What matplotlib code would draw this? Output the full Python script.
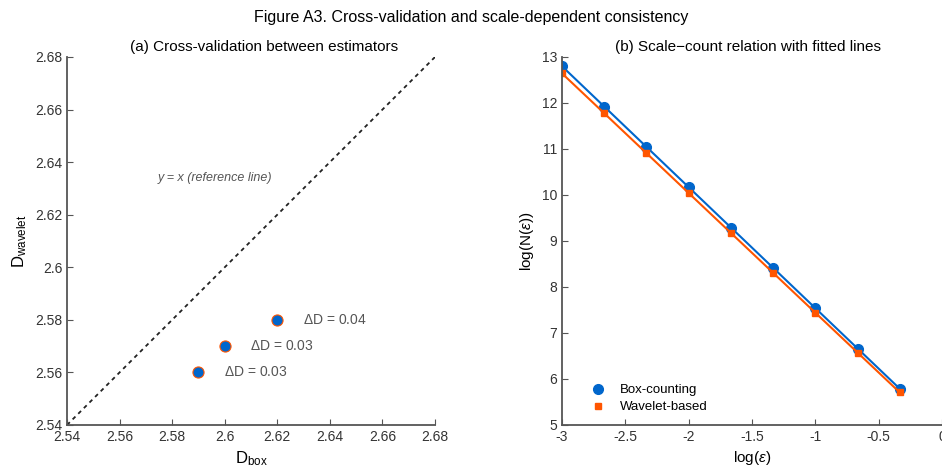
import numpy as np
import matplotlib
matplotlib.use("Agg")
import matplotlib.pyplot as plt
from matplotlib.ticker import FuncFormatter

plt.rcParams['font.family'] = ['Liberation Sans', 'DejaVu Sans']
plt.rcParams['mathtext.fontset'] = 'custom'
plt.rcParams['mathtext.rm'] = 'Liberation Sans'
plt.rcParams['mathtext.it'] = 'Liberation Sans:italic'

# (a) cross-validation data
d_box = [2.59, 2.60, 2.62]
d_wavelet = [2.56, 2.57, 2.58]
delta_labels = ["0.03", "0.03", "0.04"]

# (b) scale-count data
log_eps = [-3.0, -2.667, -2.333, -2.0, -1.667, -1.333, -1.0, -0.667, -0.333]
log_n_box = [12.80, 11.92, 11.05, 10.17, 9.29, 8.42, 7.54, 6.66, 5.79]
log_n_wav = [12.65, 11.78, 10.91, 10.04, 9.17, 8.30, 7.44, 6.57, 5.72]

blue = '#0066CC'
orange = '#FF5500'
axcol = '#555555'
g = FuncFormatter(lambda v, p: '%g' % round(v, 4))

fig = plt.figure(figsize=(9.42, 4.75), dpi=100)
ax1 = fig.add_axes([67/942, 50/475, 368/942, 368/475])
ax2 = fig.add_axes([562/942, 50/475, 380/942, 368/475])

for ax in (ax1, ax2):
    ax.spines['top'].set_visible(False)
    ax.spines['right'].set_visible(False)
    for s in ('left', 'bottom'):
        ax.spines[s].set_color(axcol)
        ax.spines[s].set_linewidth(1.3)
    ax.tick_params(direction='in', colors=axcol, labelcolor='#333333', labelsize=10, length=4)
    ax.xaxis.set_major_formatter(g)
    ax.yaxis.set_major_formatter(g)

# panel (a)
lim = [2.54, 2.68]
ax1.plot(lim, lim, linestyle=(0, (2.2, 2.2)), color='#222222', linewidth=1.3)
ax1.scatter(d_box, d_wavelet, s=64, color=blue, edgecolors=orange, linewidths=0.8, zorder=3)
for x, y, t in zip(d_box, d_wavelet, delta_labels):
    ax1.text(x + 0.0098, y, r'$\Delta$D = ' + t, fontsize=10, color='#555555', va='center')
ax1.text(2.5746, 2.634, 'y = x (reference line)', fontsize=9, style='italic', color='#555555', va='center')
ax1.set_xlim(lim)
ax1.set_ylim(lim)
ax1.set_xticks(np.arange(2.54, 2.681, 0.02))
ax1.set_yticks(np.arange(2.54, 2.681, 0.02))
ax1.set_xlabel(r'D$_{\mathrm{box}}$', fontsize=12)
ax1.set_ylabel(r'D$_{\mathrm{wavelet}}$', fontsize=12)
ax1.set_title('(a) Cross-validation between estimators', fontsize=11, x=0.535, pad=4)

# panel (b) with least-squares fitted lines
x = np.array(log_eps)
for yv, col, mk, lab, ms in ((log_n_box, blue, 'o', 'Box-counting', 7),
                             (log_n_wav, orange, 's', 'Wavelet-based', 5)):
    k, b = np.polyfit(x, yv, 1)
    ax2.plot(x, k * x + b, color=col, linewidth=1.5)
    ax2.plot(x, yv, linestyle='none', marker=mk, color=col, markersize=ms, label=lab)
ax2.set_xlim(-3, 0)
ax2.set_ylim(5, 13)
ax2.set_xticks(np.arange(-3, 0.01, 0.5))
ax2.set_yticks(np.arange(5, 13.1, 1))
ax2.set_xlabel(r'log($\epsilon$)', fontsize=11)
ax2.set_ylabel(r'log(N($\epsilon$))', fontsize=11)
ax2.set_title('(b) Scale\u2212count relation with fitted lines', fontsize=11, x=0.49, pad=4)
ax2.legend(loc='lower left', frameon=False, fontsize=9.5, bbox_to_anchor=(0.03, 0.0),
           handletextpad=0.6, labelspacing=0.35)

fig.suptitle('Figure A3. Cross-validation and scale-dependent consistency', fontsize=11.5, y=0.978)

fig.savefig('out.png', dpi=100)
